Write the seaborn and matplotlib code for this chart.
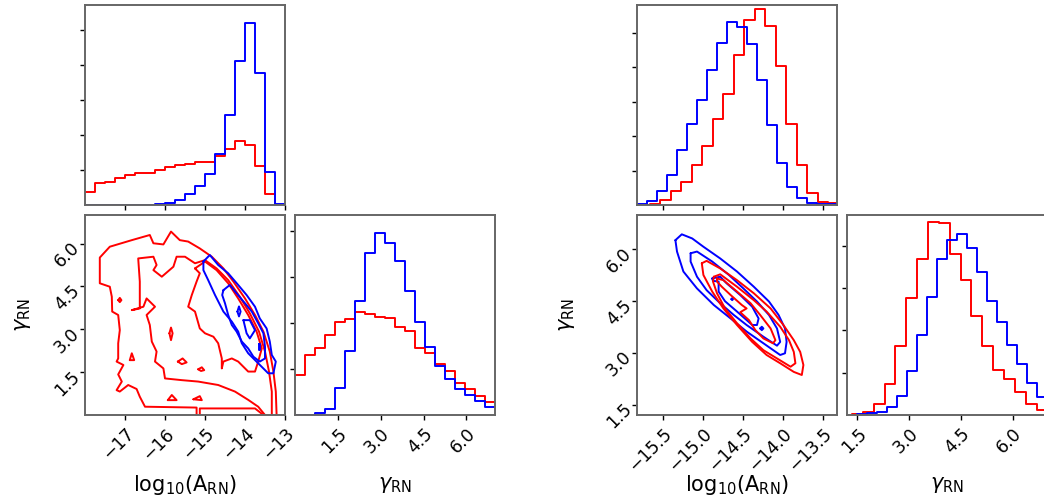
import numpy as np
import pandas as pd
import matplotlib
matplotlib.use("Agg")
import matplotlib.pyplot as plt
import seaborn as sns

# ---------------- data ----------------
# Left corner: 1D histogram of log10(A_RN), 20 bins over [-18, -13]
L_A_range = (-18.0, -13.0)
L_A_red = [0.38, 0.62, 0.67, 0.76, 0.86, 0.92, 0.93, 1.00, 1.10, 1.16,
           1.17, 1.24, 1.24, 1.40, 1.60, 1.84, 1.73, 1.12, 0.31, 0.01]
L_A_blue = [0.0, 0.0, 0.0, 0.0, 0.0, 0.0, 0.0, 0.02, 0.05, 0.14,
            0.31, 0.55, 0.89, 1.47, 2.58, 4.12, 5.21, 3.78, 0.95, 0.03]
# Left corner: 1D histogram of gamma_RN, 20 bins over [0, 7]
L_G_range = (0.0, 7.0)
L_G_red = [0.86, 1.30, 1.46, 1.74, 2.02, 2.09, 2.25, 2.20, 2.14, 2.10,
           1.92, 1.83, 1.45, 1.34, 1.11, 0.96, 0.70, 0.57, 0.41, 0.29]
L_G_blue = [0.0, 0.01, 0.04, 0.14, 0.58, 1.39, 2.49, 3.53, 3.96, 3.75,
            3.35, 2.70, 2.03, 1.47, 1.07, 0.78, 0.57, 0.43, 0.30, 0.18]

# Right corner: 1D histogram of log10(A_RN)
R_A_range_red = (-15.79, -13.17)
R_A_red = [0.0, 0.03, 0.15, 0.41, 0.68, 1.17, 1.70, 2.50, 3.23, 4.37,
           5.36, 5.70, 5.21, 4.03, 2.36, 1.15, 0.36, 0.10, 0.05, 0.03]
R_A_range_blue = (-15.82, -13.32)
R_A_blue = [0.03, 0.12, 0.41, 0.87, 1.60, 2.36, 3.06, 3.93, 4.71, 5.31,
            5.17, 4.69, 3.62, 2.31, 1.22, 0.51, 0.19, 0.07, 0.03, 0.02]
# Right corner: 1D histogram of gamma_RN
R_G_range_red = (1.345, 7.645)
R_G_red = [0.02, 0.08, 0.26, 0.73, 1.63, 2.75, 3.69, 4.56, 4.53, 3.81,
           3.18, 2.33, 1.63, 1.06, 0.85, 0.55, 0.26, 0.12, 0.05, 0.03]
R_G_range_blue = (1.49, 7.29)
R_G_blue = [0.02, 0.04, 0.07, 0.18, 0.45, 1.04, 1.89, 2.79, 3.69, 4.12,
            4.28, 3.93, 3.38, 2.69, 2.20, 1.65, 1.20, 0.76, 0.43, 0.20]

# Left corner 2D contours (log10 A, gamma)
L_red_outer_a_x = [-15.21, -15.21, -16.50, -16.63, -16.71, -16.92, -17.13, -17.21, -17.08, -17.17,
                   -17.04, -17.21, -17.17, -17.17, -17.13, -17.17, -17.32, -17.33, -17.38, -17.63,
                   -17.63, -17.38, -16.83, -16.38, -16.29, -16.04, -15.85, -15.63, -15.42, -15.13,
                   -14.83, -14.54, -14.29, -14.00, -13.75, -13.54, -13.38, -13.29, -13.23, -13.21]
L_red_outer_a_y = [0.00, 0.26, 0.29, 0.64, 0.91, 1.05, 0.82, 0.87, 1.17, 1.42,
                   1.75, 1.87, 1.98, 2.51, 2.97, 3.50, 3.62, 4.14, 4.49, 4.61,
                   5.51, 5.89, 6.12, 6.30, 6.01, 5.97, 6.42, 6.12, 6.07, 5.83,
                   5.54, 5.13, 4.67, 4.08, 3.50, 2.92, 2.22, 1.52, 0.82, 0.00]
L_red_outer_b_x = [-15.13, -15.13, -13.75, -13.54]
L_red_outer_b_y = [0.00, 0.23, 0.23, 0.00]
L_red_mid_x = [-13.33, -13.33, -13.40, -13.50, -13.65, -13.88, -14.13, -14.42, -14.71, -15.00,
               -15.25, -15.50, -15.71, -15.79, -16.08, -16.29, -16.21, -16.29, -16.67, -16.63,
               -16.63, -16.83, -16.54, -16.46, -16.25, -16.46, -16.38, -16.33, -16.21, -16.25,
               -16.04, -16.00, -15.58, -15.17, -14.67, -14.25, -13.92, -13.67, -13.50]
L_red_mid_y = [0.00, 0.82, 1.52, 2.22, 2.92, 3.56, 4.14, 4.72, 5.13, 5.42,
               5.31, 5.54, 5.54, 5.19, 4.84, 5.07, 5.25, 5.54, 5.48, 4.67,
               3.73, 3.67, 3.79, 4.08, 3.79, 3.50, 3.15, 2.57, 2.22, 1.87,
               1.63, 1.28, 1.22, 1.17, 1.05, 0.82, 0.53, 0.29, 0.00]
L_red_in_x = [-15.25, -15.13, -15.21, -15.33, -15.42, -15.25, -15.13, -15.00, -14.79, -14.67,
              -14.58, -14.58, -14.54, -14.33, -14.17, -13.92, -13.75, -13.67, -13.58, -13.71,
              -13.92, -14.17, -14.42, -14.71, -15.00]
L_red_in_y = [5.13, 4.96, 4.67, 4.20, 3.79, 3.62, 3.03, 2.86, 2.74, 2.51,
              1.98, 1.63, 1.87, 1.98, 1.87, 1.52, 1.52, 1.87, 2.33, 2.92,
              3.50, 4.08, 4.61, 5.07, 5.37]
L_red_islands = [
    ([-17.17, -17.13, -17.09, -17.13], [4.02, 4.10, 4.02, 3.95]),
    ([-15.89, -15.85, -15.81, -15.85], [2.86, 3.06, 2.86, 2.62]),
    ([-16.88, -16.83, -16.77], [1.92, 2.16, 1.92]),
    ([-15.68, -15.56, -15.46, -15.58], [1.87, 1.98, 1.84, 1.78]),
    ([-15.17, -15.08, -15.02, -15.10], [1.60, 1.67, 1.57, 1.54]),
    ([-15.93, -15.83, -15.71], [0.52, 0.70, 0.52]),
    ([-15.29, -15.13, -15.08], [0.55, 0.66, 0.52]),
]
L_blue_outer_x = [-15.04, -14.88, -14.67, -14.42, -14.17, -13.96, -13.75, -13.63, -13.46, -13.38,
                  -13.33, -13.23, -13.29, -13.42, -13.67, -13.92, -14.08, -14.17, -14.33, -14.54,
                  -14.75, -14.92, -15.04]
L_blue_outer_y = [5.37, 5.60, 5.25, 4.96, 4.55, 4.20, 3.79, 3.38, 3.03, 2.57,
                  2.10, 1.87, 1.46, 1.46, 1.81, 2.16, 2.51, 2.92, 3.27, 3.62,
                  4.20, 4.72, 5.07]
L_blue_mid_x = [-14.54, -14.38, -14.21, -14.00, -13.83, -13.67, -13.54, -13.50, -13.50, -13.63,
                -13.79, -13.92, -14.08, -14.21, -14.33, -14.42, -14.50, -14.57]
L_blue_mid_y = [4.37, 4.55, 4.26, 3.91, 3.62, 3.21, 2.86, 2.39, 1.98, 1.87,
                2.04, 2.33, 2.57, 2.92, 3.15, 3.50, 3.91, 4.20]
L_blue_islands = [
    ([-14.19, -14.15, -14.11, -14.15], [3.62, 3.80, 3.62, 3.45]),
    ([-14.04, -13.88, -13.75, -13.88, -13.96], [3.32, 3.32, 2.97, 2.68, 2.86]),
    ([-13.64, -13.62, -13.62, -13.64], [2.50, 2.50, 2.28, 2.28]),
]

# Right corner 2D contours
R_blue_outer_x = [-15.34, -15.26, -15.13, -14.99, -14.78, -14.57, -14.36, -14.17, -14.05, -13.97,
                  -13.95, -13.97, -14.03, -14.24, -14.45, -14.65, -14.86, -15.07, -15.24, -15.32]
R_blue_outer_y = [6.27, 6.44, 6.32, 6.08, 5.74, 5.36, 4.92, 4.49, 4.10, 3.71,
                  3.32, 2.99, 2.94, 3.28, 3.62, 4.00, 4.39, 4.87, 5.36, 5.94]
R_blue_mid_x = [-15.15, -15.07, -14.88, -14.67, -14.49, -14.32, -14.17, -14.07, -14.03, -14.07,
                -14.24, -14.45, -14.61, -14.78, -14.95, -15.07, -15.15]
R_blue_mid_y = [5.89, 5.94, 5.65, 5.26, 4.87, 4.49, 4.10, 3.71, 3.32, 3.21,
                3.47, 3.81, 4.10, 4.44, 4.82, 5.21, 5.65]
R_blue_in_x = [-14.88, -14.78, -14.70, -14.53, -14.38, -14.30, -14.32, -14.38, -14.57, -14.72,
               -14.80, -14.80, -14.87]
R_blue_in_y = [5.16, 5.21, 5.02, 4.68, 4.34, 4.00, 3.81, 3.81, 4.20, 4.50,
               4.78, 5.07, 5.09]
R_blue_islands = [
    ([-14.64, -14.63, -14.62, -14.63], [4.56, 4.59, 4.56, 4.53]),
    ([-14.28, -14.26, -14.24, -14.26], [3.71, 3.76, 3.71, 3.66]),
]
R_red_outer_x = [-15.01, -14.95, -14.78, -14.57, -14.36, -14.15, -13.99, -13.86, -13.78, -13.74,
                 -13.76, -13.86, -14.03, -14.20, -14.38, -14.57, -14.74, -14.88, -14.99]
R_red_outer_y = [5.60, 5.67, 5.45, 5.11, 4.73, 4.29, 3.81, 3.37, 3.03, 2.65,
                 2.36, 2.45, 2.70, 2.94, 3.32, 3.81, 4.29, 4.78, 5.26]
R_red_mid_x = [-14.86, -14.78, -14.57, -14.36, -14.20, -14.03, -13.92, -13.86, -13.84, -13.90,
               -14.07, -14.24, -14.40, -14.57, -14.72, -14.82, -14.87]
R_red_mid_y = [5.21, 5.28, 4.92, 4.53, 4.20, 3.76, 3.37, 3.03, 2.70, 2.60,
               2.84, 3.08, 3.42, 3.86, 4.29, 4.73, 5.07]
R_red_in_x = [-14.82, -14.74, -14.57, -14.40, -14.28, -14.15, -14.09, -14.12, -14.24, -14.34,
              -14.42, -14.53, -14.45, -14.51, -14.65, -14.76, -14.82]
R_red_in_y = [5.16, 5.11, 4.78, 4.44, 4.10, 3.71, 3.37, 3.28, 3.42, 3.66,
              3.95, 4.18, 4.29, 4.39, 4.68, 4.92, 5.07]

L_A_ticks = [-17, -16, -15, -14, -13]
L_G_ticks = [1.5, 3.0, 4.5, 6.0]
R_A_ticks = [-15.5, -15.0, -14.5, -14.0, -13.5]
R_G_ticks = [1.5, 3.0, 4.5, 6.0]
XLABEL = r"$\mathrm{log}_{10}(\mathrm{A}_{\mathrm{RN}})$"
GLABEL = r"$\gamma_{\mathrm{RN}}$"

# ---------------- style ----------------
sns.set_style("ticks")
plt.rcParams.update({
    "axes.edgecolor": "#666666",
    "axes.linewidth": 1.4,
    "axes.labelcolor": "black",
    "text.color": "black",
    "xtick.color": "black",
    "ytick.color": "black",
    "xtick.labelcolor": "black",
    "ytick.labelcolor": "black",
    "xtick.major.size": 3.5,
    "ytick.major.size": 3.5,
    "xtick.major.width": 1.0,
    "ytick.major.width": 1.0,
    "xtick.labelsize": 12.5,
    "ytick.labelsize": 12.5,
    "axes.labelsize": 15,
    "mathtext.fontset": "dejavusans",
})
plt.rcParams["font.family"] = ["DejaVu Sans"]

W, H = 1044, 501
fig = plt.figure(figsize=(W / 100, H / 100), dpi=100)


def add_ax(x0, top):
    return fig.add_axes([x0 / W, (H - top - 200) / H, 200 / W, 200 / H])


LW = 1.4


def hist(ax, rng, heights, color):
    edges = np.linspace(rng[0], rng[1], len(heights) + 1)
    centers = 0.5 * (edges[:-1] + edges[1:])
    df = pd.DataFrame({"x": centers, "w": np.asarray(heights, dtype=float)})
    sns.histplot(data=df, x="x", weights="w", bins=list(edges), element="step",
                 fill=False, color=color, linewidth=LW, ax=ax)
    ax.set_xlabel("")
    ax.set_ylabel("")


def contour(ax, xs, ys, color, closed=True):
    xs = list(xs)
    ys = list(ys)
    if closed:
        xs = xs + xs[:1]
        ys = ys + ys[:1]
    sns.lineplot(x=xs, y=ys, sort=False, estimator=None, color=color,
                 linewidth=LW, ax=ax)


def finish_hist(ax, xlim, ticks, ymax, yticks, bottom_labels):
    ax.set_xlim(*xlim)
    ax.set_ylim(0, ymax)
    ax.set_xticks(ticks)
    ax.set_yticks(yticks)
    ax.set_yticklabels([])
    if bottom_labels:
        ax.set_xticklabels([f"{t:.1f}" for t in ticks], rotation=45,
                           ha="right", rotation_mode="anchor")
    else:
        ax.set_xticklabels([])


# ---------------- left corner ----------------
ax = add_ax(85, 5)
hist(ax, L_A_range, L_A_red, "red")
hist(ax, L_A_range, L_A_blue, "blue")
finish_hist(ax, (-18, -13), L_A_ticks, 5.73, [1, 2, 3, 4, 5], False)

ax = add_ax(85, 215)
contour(ax, L_red_outer_a_x, L_red_outer_a_y, "red", closed=False)
contour(ax, L_red_outer_b_x, L_red_outer_b_y, "red", closed=False)
contour(ax, L_red_mid_x, L_red_mid_y, "red", closed=False)
contour(ax, L_red_in_x, L_red_in_y, "red")
for xs, ys in L_red_islands:
    contour(ax, xs, ys, "red")
contour(ax, L_blue_outer_x, L_blue_outer_y, "blue")
contour(ax, L_blue_mid_x, L_blue_mid_y, "blue")
for xs, ys in L_blue_islands:
    contour(ax, xs, ys, "blue")
ax.set_xlim(-18, -13)
ax.set_ylim(0, 7)
ax.set_xticks(L_A_ticks)
ax.set_xticklabels([f"\u2212{abs(t)}" for t in L_A_ticks], rotation=45,
                   ha="right", rotation_mode="anchor")
ax.set_yticks(L_G_ticks)
ax.set_yticklabels([f"{t:.1f}" for t in L_G_ticks], rotation=45,
                   ha="right", rotation_mode="anchor")
ax.set_xlabel(XLABEL)
ax.set_ylabel(GLABEL)
ax.xaxis.set_label_coords(0.5, -0.29)
ax.yaxis.set_label_coords(-0.26, 0.5)

ax = add_ax(295, 215)
hist(ax, L_G_range, L_G_red, "red")
hist(ax, L_G_range, L_G_blue, "blue")
finish_hist(ax, (0, 7), L_G_ticks, 4.35, [1, 2, 3, 4], True)
ax.set_xlabel(GLABEL)
ax.xaxis.set_label_coords(0.5, -0.30)

# ---------------- right corner ----------------
ax = add_ax(637, 5)
hist(ax, R_A_range_red, R_A_red, "red")
hist(ax, R_A_range_blue, R_A_blue, "blue")
finish_hist(ax, (-15.82, -13.32), R_A_ticks, 5.81, [1, 2, 3, 4, 5], False)

ax = add_ax(637, 215)
contour(ax, R_blue_outer_x, R_blue_outer_y, "blue")
contour(ax, R_blue_mid_x, R_blue_mid_y, "blue")
contour(ax, R_blue_in_x, R_blue_in_y, "blue")
for xs, ys in R_blue_islands:
    contour(ax, xs, ys, "blue")
contour(ax, R_red_outer_x, R_red_outer_y, "red")
contour(ax, R_red_mid_x, R_red_mid_y, "red")
contour(ax, R_red_in_x, R_red_in_y, "red")
ax.set_xlim(-15.82, -13.32)
ax.set_ylim(1.2, 7.0)
ax.set_xticks(R_A_ticks)
ax.set_xticklabels([f"\u2212{abs(t):.1f}" for t in R_A_ticks], rotation=45,
                   ha="right", rotation_mode="anchor")
ax.set_yticks(R_G_ticks)
ax.set_yticklabels([f"{t:.1f}" for t in R_G_ticks], rotation=45,
                   ha="right", rotation_mode="anchor")
ax.set_xlabel(XLABEL)
ax.set_ylabel(GLABEL)
ax.xaxis.set_label_coords(0.5, -0.29)
ax.yaxis.set_label_coords(-0.30, 0.5)

ax = add_ax(847, 215)
hist(ax, R_G_range_red, R_G_red, "red")
hist(ax, R_G_range_blue, R_G_blue, "blue")
finish_hist(ax, (1.2, 7.0), R_G_ticks, 4.72, [1, 2, 3, 4], True)
ax.set_xlabel(GLABEL)
ax.xaxis.set_label_coords(0.5, -0.30)

fig.savefig("out.png", dpi=100)
